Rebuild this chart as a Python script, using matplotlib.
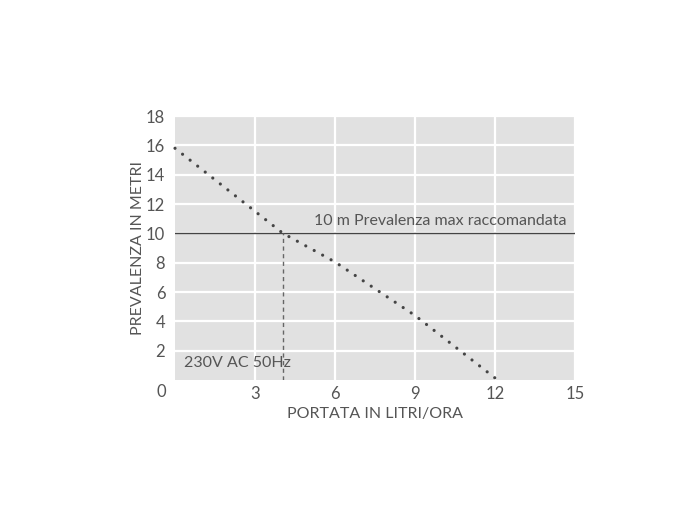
import matplotlib
matplotlib.use("Agg")
import matplotlib.pyplot as plt

# data
flow = [0.0, 4.05, 6.0, 9.0, 12.1]
head = [15.8, 10.0, 8.05, 4.4, 0.0]
max_head = 10
max_flow = 4.05
xticks = [3, 6, 9, 12, 15]
yticks = [2, 4, 6, 8, 10, 12, 14, 16, 18]

plt.rcParams['font.family'] = ['Lato', 'DejaVu Sans']
txt = '#555555'
fs = 11.5

fig = plt.figure(figsize=(7, 5.2), dpi=100)
ax = fig.add_axes([0.25, 0.2692, 0.5714, 0.5077])
ax.set_facecolor('#e1e1e1')
ax.set_xlim(0, 15)
ax.set_ylim(0, 18)
for s in ax.spines.values():
    s.set_visible(False)

ax.set_xticks(xticks)
ax.set_yticks(yticks)
ax.grid(True, color='white', linewidth=1.6)
ax.set_axisbelow(True)
ax.tick_params(length=0, labelsize=12, labelcolor=txt)
ax.tick_params(axis='x', pad=4)
ax.tick_params(axis='y', pad=7)
ax.text(-0.35, -0.3, '0', fontsize=12, color=txt, ha='right', va='top')

ax.plot(flow, head, linestyle=(0, (0.01, 3.0)), dash_capstyle='round',
        linewidth=2.3, color='#444444', clip_on=False)
ax.axhline(max_head, color='#444444', linewidth=1.0)
ax.plot([max_flow, max_flow], [0, max_head], linestyle=(0, (3, 2.5)),
        color='#666666', linewidth=1.0)

ax.text(14.7, max_head + 0.35, '10 m Prevalenza max raccomandata',
        fontsize=fs, color=txt, ha='right', va='bottom')
ax.text(0.35, 0.65, '230V AC 50Hz', fontsize=fs, color=txt,
        ha='left', va='bottom')

ax.set_xlabel('PORTATA IN LITRI/ORA', fontsize=fs, color=txt, labelpad=4)
ax.set_ylabel('PREVALENZA IN METRI', fontsize=fs, color=txt, labelpad=1)

fig.savefig('out.png', dpi=100)
